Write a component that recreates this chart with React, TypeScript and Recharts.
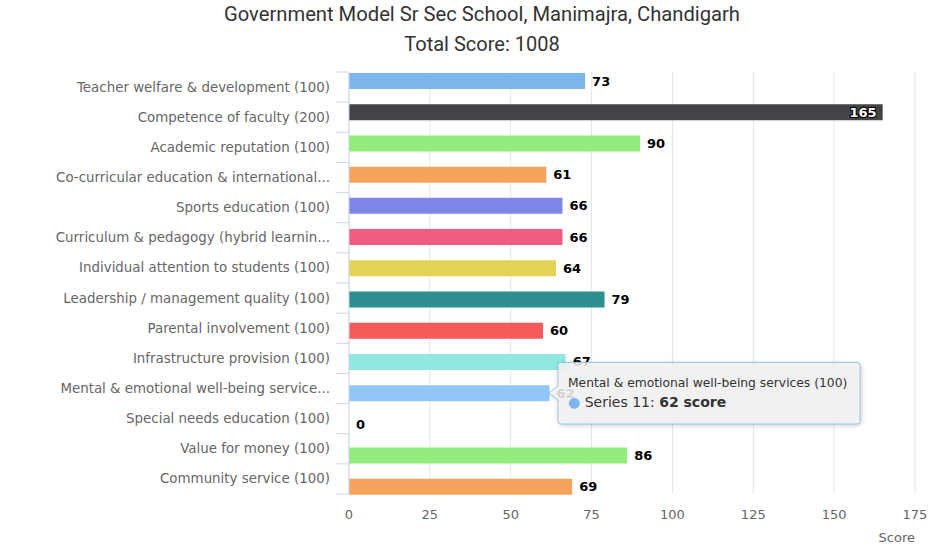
import { Bar, BarChart, CartesianGrid, Cell, LabelList, Tooltip, XAxis, YAxis } from 'recharts';

const categories = [
  'Teacher welfare & development (100)',
  'Competence of faculty (200)',
  'Academic reputation (100)',
  'Co-curricular education & international...',
  'Sports education (100)',
  'Curriculum & pedagogy (hybrid learnin...',
  'Individual attention to students (100)',
  'Leadership / management quality (100)',
  'Parental involvement (100)',
  'Infrastructure provision (100)',
  'Mental & emotional well-being service...',
  'Special needs education (100)',
  'Value for money (100)',
  'Community service (100)',
];

const scores = [73, 165, 90, 61, 66, 66, 64, 79, 60, 67, 62, 0, 86, 69];

// highcharts default palette, one series per category (series 11 is in hover state)
const barColors = [
  '#7cb5ec', '#434348', '#90ed7d', '#f7a35c', '#8085e9', '#f15c80', '#e4d354',
  '#2b908f', '#f45b5b', '#91e8e1', '#92c6f6', '#434348', '#90ed7d', '#f7a35c',
];

const valueTicks = [0, 25, 50, 75, 100, 125, 150, 175];

const title = 'Government Model Sr Sec School, Manimajra, Chandigarh';
const subtitle = 'Total Score: 1008';
const hoverTitle = 'Mental & emotional well-being services (100)';
const hoverIndex = 10;

const data = categories.map((name, i) => ({ name, score: scores[i], series: `Series ${i + 1}` }));

const WIDTH = 940;
const HEIGHT = 550;
const PLOT_LEFT = 349;
const PLOT_RIGHT = 915;
const TICK_SIZE = 13;
const TICK_MARGIN = 6;
const FONT = '"DejaVu Sans", "Lucida Grande", Arial, sans-serif';

const CategoryTick = (props: any) => {
  const { x, y, payload, index, visibleTicksCount } = props;
  const axisX = x + TICK_SIZE + TICK_MARGIN;
  const half = payload.offset || 15;
  const top = payload.coordinate - half;
  const bottom = payload.coordinate + half;
  return (
    <g>
      <line x1={axisX} x2={axisX} y1={top} y2={bottom} stroke="#ccd6eb" />
      <line x1={axisX - TICK_SIZE} x2={axisX} y1={top} y2={top} stroke="#ccd6eb" />
      {index === visibleTicksCount - 1 && (
        <line x1={axisX - TICK_SIZE} x2={axisX} y1={bottom} y2={bottom} stroke="#ccd6eb" />
      )}
      <text x={x} y={y} dy={4.5} textAnchor="end" fill="#666" fontSize={13.4} fontFamily={FONT}>
        {payload.value}
      </text>
    </g>
  );
};

const ValueLabel = (props: any) => {
  const { x, y, width, height, value } = props;
  const end = x + width;
  const inside = end + 36 > PLOT_RIGHT;
  return (
    <text
      x={inside ? end - 6 : end + 7}
      y={y + height / 2}
      dy={4.5}
      textAnchor={inside ? 'end' : 'start'}
      fill={inside ? '#fff' : '#000'}
      stroke={inside ? '#000' : '#fff'}
      strokeWidth={2}
      paintOrder="stroke"
      fontSize={13}
      fontWeight="bold"
      fontFamily={FONT}
    >
      {value}
    </text>
  );
};

const HoverBox = ({ active, payload }: any) => {
  if (!active || !payload || !payload.length) return null;
  const item = payload[0].payload;
  return (
    <div style={{ position: 'relative', width: 316, height: 66, fontFamily: FONT }}>
      <svg width={316} height={66} style={{ position: 'absolute', left: 0, top: 0, filter: 'drop-shadow(1px 1px 2px rgba(0,0,0,0.22))' }}>
        <path
          d="M 13 0.5 H 309 Q 312 0.5 312 3.5 V 59 Q 312 62 309 62 H 13 Q 10 62 10 59 V 38 L 1 31 L 10 24 V 3.5 Q 10 0.5 13 0.5 Z"
          fill="rgba(247,247,247,0.85)"
          stroke="#9cc3e6"
        />
      </svg>
      <div style={{ position: 'absolute', left: 20, top: 14, fontSize: 12.3, color: '#333', whiteSpace: 'nowrap' }}>
        {hoverTitle}
      </div>
      <div style={{ position: 'absolute', left: 20, top: 32, fontSize: 14, color: '#333', whiteSpace: 'nowrap' }}>
        <span style={{ color: '#7cb5ec' }}>●</span> {item.series}: <b>{item.score} score</b>
      </div>
    </div>
  );
};

export default function App() {
  return (
    <div style={{ position: 'fixed', left: 0, top: 0, width: WIDTH, height: HEIGHT, background: '#fff' }}>
      <div style={{ position: 'absolute', left: 0, width: 964, top: 2, textAlign: 'center', fontFamily: 'Roboto, sans-serif', fontSize: 20.2, color: '#333' }}>
        {title}
      </div>
      <div style={{ position: 'absolute', left: 0, width: 964, top: 32, textAlign: 'center', fontFamily: 'Roboto, sans-serif', fontSize: 20, color: '#333' }}>
        {subtitle}
      </div>
      <BarChart
        width={WIDTH}
        height={HEIGHT}
        data={data}
        layout="vertical"
        margin={{ top: 65, right: WIDTH - PLOT_RIGHT, bottom: 0, left: 0 }}
      >
        <CartesianGrid horizontal={false} stroke="#e6e6e6" y={72} height={422} />
        <XAxis
          type="number"
          domain={[0, 175]}
          ticks={valueTicks}
          axisLine={false}
          tickLine={false}
          tickMargin={2}
          height={48}
          tick={{ fill: '#666', fontSize: 13, fontFamily: FONT }}
          label={{ value: 'Score', position: 'insideBottomRight', offset: 8, dx: 8, fill: '#666', fontSize: 13, fontFamily: FONT }}
        />
        <YAxis type="category" dataKey="name" hide width={0} />
        <YAxis
          yAxisId="labels"
          type="category"
          dataKey="name"
          width={PLOT_LEFT}
          padding={{ top: 7, bottom: 8 }}
          axisLine={false}
          tickLine={false}
          tickSize={TICK_SIZE}
          tickMargin={TICK_MARGIN}
          interval={0}
          tick={<CategoryTick />}
        />
        <Tooltip
          active
          defaultIndex={hoverIndex}
          cursor={false}
          position={{ x: 548, y: 362 }}
          isAnimationActive={false}
          content={<HoverBox />}
          wrapperStyle={{ zIndex: 10 }}
        />
        <Bar dataKey="score" barSize={16} minPointSize={0.01} isAnimationActive={false}>
          {data.map((d, i) => (
            <Cell key={d.name} fill={barColors[i]} />
          ))}
          <LabelList dataKey="score" content={<ValueLabel />} />
        </Bar>
      </BarChart>
    </div>
  );
}
